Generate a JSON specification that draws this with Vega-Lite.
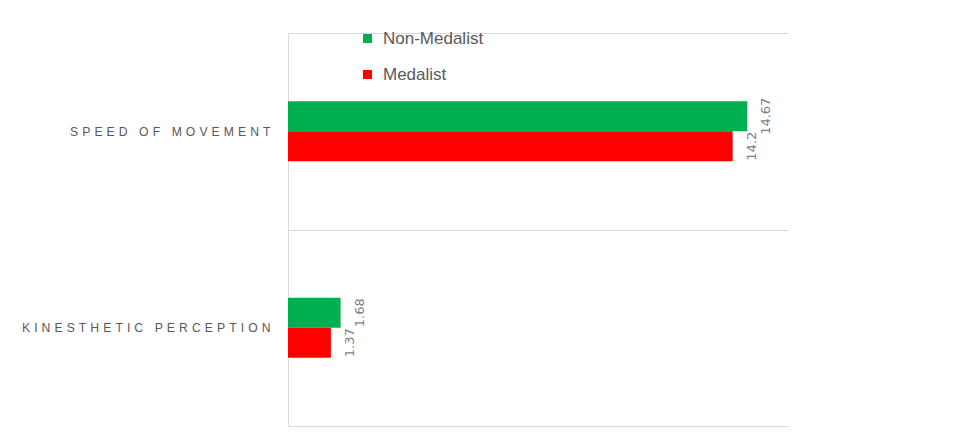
{
  "$schema": "https://vega.github.io/schema/vega-lite/v6.json",
  "width": 501,
  "height": 393,
  "autosize": {"type": "none"},
  "padding": {"left": 288, "top": 33, "right": 170, "bottom": 20},
  "background": "white",
  "config": {"view": {"stroke": null}},
  "data": {
    "values": [
      {"category": "SPEED OF MOVEMENT", "group": "Non-Medalist", "value": 14.67},
      {"category": "SPEED OF MOVEMENT", "group": "Medalist", "value": 14.2},
      {"category": "KINESTHETIC PERCEPTION", "group": "Non-Medalist", "value": 1.68},
      {"category": "KINESTHETIC PERCEPTION", "group": "Medalist", "value": 1.37}
    ]
  },
  "encoding": {
    "y": {
      "field": "category",
      "type": "nominal",
      "sort": ["SPEED OF MOVEMENT", "KINESTHETIC PERCEPTION"],
      "scale": {"paddingInner": 0, "paddingOuter": 0},
      "axis": {
        "title": null,
        "domainColor": "#d9d9d9",
        "ticks": false,
        "grid": true,
        "gridColor": "#d9d9d9",
        "tickBand": "extent",
        "labelPadding": 18,
        "labelColor": "#595959",
        "labelFont": "Liberation Sans",
        "labelFontSize": 12.2,
        "labelLimit": 0,
        "labelExpr": "join(split(datum.label, ''), '\u2004')"
      }
    },
    "yOffset": {
      "field": "group",
      "scale": {
        "domain": ["_a", "_b", "Non-Medalist", "Medalist", "_c", "_d"],
        "paddingInner": 0,
        "paddingOuter": 0.275
      }
    },
    "x": {
      "field": "value",
      "type": "quantitative",
      "scale": {"domain": [0, 16]},
      "axis": null
    }
  },
  "layer": [
    {
      "mark": {"type": "bar"},
      "encoding": {
        "color": {
          "field": "group",
          "type": "nominal",
          "scale": {"domain": ["Non-Medalist", "Medalist"], "range": ["#00B050", "#FF0000"]},
          "legend": {
            "title": null,
            "orient": "none",
            "legendX": 71,
            "legendY": -3,
            "symbolType": "square",
            "symbolSize": 81,
            "symbolStrokeWidth": 0,
            "labelFontSize": 17,
            "labelColor": "#595959",
            "labelFont": "Liberation Sans",
            "rowPadding": 18,
            "labelOffset": 7,
            "padding": 0,
            "encode": {
              "symbols": {
                "update": {
                  "fill": {"signal": "datum.value === 'Non-Medalist' ? '#9BBB59' : '#FF0000'"},
                  "opacity": {"value": 1}
                }
              }
            }
          }
        }
      }
    },
    {
      "mark": {
        "type": "text",
        "angle": 270,
        "align": "center",
        "baseline": "top",
        "dy": 13,
        "font": "DejaVu Sans",
        "fontSize": 13,
        "color": "#7f7f7f"
      },
      "encoding": {"text": {"field": "value", "type": "quantitative"}}
    }
  ]
}
